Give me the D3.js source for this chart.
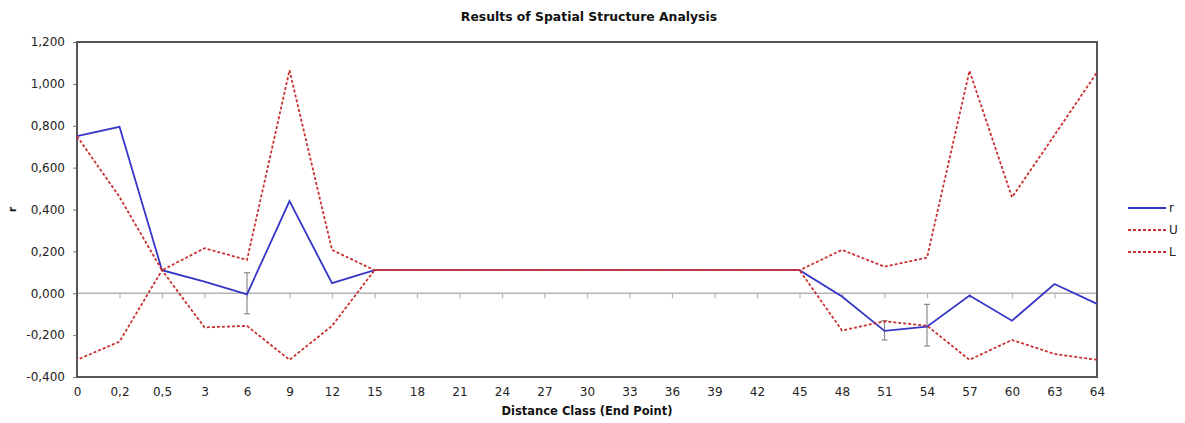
<!DOCTYPE html>
<html>
<head>
<meta charset="utf-8">
<script src="https://cdn.jsdelivr.net/npm/d3@7/dist/d3.min.js"></script>
<style>
  html, body { margin: 0; padding: 0; background: #fff; }
  svg { display: block; font-family: "DejaVu Sans", sans-serif; }
</style>
</head>
<body>
<svg id="chart" width="1185" height="423"></svg>
<script>
// Distance classes (end points) along the x axis
const classes = ["0", "0,2", "0,5", "3", "6", "9", "12", "15", "18", "21", "24", "27", "30",
                 "33", "36", "39", "42", "45", "48", "51", "54", "57", "60", "63", "64"];

// Correlation r per distance class
const rValues = [0.750, 0.795, 0.110, 0.055, -0.005, 0.440, 0.048, 0.110, 0.110, 0.110, 0.110, 0.110, 0.110,
                 0.110, 0.110, 0.110, 0.110, 0.110, -0.016, -0.180, -0.160, -0.011, -0.131, 0.044, -0.051];

// Upper confidence bound U
const uValues = [0.750, 0.460, 0.110, 0.215, 0.159, 1.065, 0.207, 0.110, 0.110, 0.110, 0.110, 0.110, 0.110,
                 0.110, 0.110, 0.110, 0.110, 0.110, 0.207, 0.127, 0.170, 1.062, 0.458, 0.755, 1.055];

// Lower confidence bound L
const lValues = [-0.318, -0.231, 0.110, -0.163, -0.156, -0.318, -0.156, 0.110, 0.110, 0.110, 0.110, 0.110, 0.110,
                 0.110, 0.110, 0.110, 0.110, 0.110, -0.178, -0.134, -0.155, -0.318, -0.223, -0.290, -0.318];

// Error bars drawn at a few classes
const errClasses = ["6", "51", "54"];
const errHigh = [0.098, -0.131, -0.053];
const errLow = [-0.098, -0.223, -0.252];

// Y axis tick values
const yTicks = [-0.4, -0.2, 0, 0.2, 0.4, 0.6, 0.8, 1.0, 1.2];

const svg = d3.select("#chart");
const plotL = 77, plotR = 1097, plotT = 42, plotB = 377;

const x = d3.scalePoint().domain(classes).range([plotL, plotR]).padding(0);
const y = d3.scaleLinear().domain([-0.4, 1.2]).range([plotB, plotT]);

const fmt = d3.formatLocale({ decimal: ",", thousands: ".", grouping: [3], currency: ["", ""], minus: "-" }).format(".3f");

// Title
svg.append("text")
  .attr("x", (plotL + plotR) / 2 + 2).attr("y", 21)
  .attr("text-anchor", "middle")
  .attr("font-size", 12.4).attr("font-weight", "bold").attr("fill", "#111")
  .text("Results of Spatial Structure Analysis");

// Y axis with tick labels
const yAxis = d3.axisLeft(y).tickValues(yTicks).tickFormat(fmt).tickSize(4).tickPadding(8);
const gy = svg.append("g").attr("transform", `translate(${plotL},0)`).call(yAxis);
gy.select(".domain").remove();
gy.selectAll(".tick line").attr("stroke", "#777");
gy.selectAll(".tick text").attr("font-size", 12).attr("fill", "#222").attr("font-family", "DejaVu Sans, sans-serif");

// Zero baseline with category tick marks
const gx = svg.append("g").attr("transform", `translate(0,${y(0)})`)
  .call(d3.axisBottom(x).tickSize(5).tickFormat(""));
gx.select(".domain").attr("stroke", "#b4b4b4").attr("stroke-width", 1.5)
  .attr("d", `M${plotL},0H${plotR}`);
gx.selectAll(".tick line").attr("stroke", "#b4b4b4").attr("stroke-width", 1.2);

// Category labels along the bottom
const gxl = svg.append("g").attr("transform", `translate(0,${plotB})`)
  .call(d3.axisBottom(x).tickSize(0).tickPadding(10));
gxl.select(".domain").remove();
gxl.selectAll(".tick text").attr("font-size", 12).attr("fill", "#222").attr("font-family", "DejaVu Sans, sans-serif");

// Plot frame
svg.append("rect")
  .attr("x", plotL).attr("y", plotT)
  .attr("width", plotR - plotL).attr("height", plotB - plotT)
  .attr("fill", "none").attr("stroke", "#555").attr("stroke-width", 2);

// Axis titles
svg.append("text")
  .attr("transform", `translate(16,${(plotT + plotB) / 2}) rotate(-90)`)
  .attr("text-anchor", "middle")
  .attr("font-size", 11).attr("font-weight", "bold").attr("fill", "#111")
  .text("r");
svg.append("text")
  .attr("x", (plotL + plotR) / 2).attr("y", 415)
  .attr("text-anchor", "middle")
  .attr("font-size", 11.5).attr("font-weight", "bold").attr("fill", "#111")
  .text("Distance Class (End Point)");

const line = d3.line().x((d, i) => x(classes[i])).y(d => y(d));

const series = [
  { name: "r", values: rValues, color: "#3535c8", dash: null, width: 1.8 },
  { name: "U", values: uValues, color: "#c83232", dash: "3,2", width: 1.8 },
  { name: "L", values: lValues, color: "#c83232", dash: "3,2", width: 1.8 }
];

// Error bars
const gErr = svg.append("g").attr("stroke", "#8a8a8a").attr("stroke-width", 1.2);
errClasses.forEach((c, i) => {
  const cx = x(c);
  gErr.append("line").attr("x1", cx).attr("x2", cx).attr("y1", y(errHigh[i])).attr("y2", y(errLow[i]));
  gErr.append("line").attr("x1", cx - 3).attr("x2", cx + 3).attr("y1", y(errHigh[i])).attr("y2", y(errHigh[i]));
  gErr.append("line").attr("x1", cx - 3).attr("x2", cx + 3).attr("y1", y(errLow[i])).attr("y2", y(errLow[i]));
});

// Series lines
const paths = series.map(s => svg.append("path")
  .datum(s.values)
  .attr("d", line)
  .attr("fill", "none")
  .attr("stroke", s.color)
  .attr("stroke-width", s.width)
  .attr("stroke-dasharray", s.dash)
  .attr("stroke-linejoin", "miter"));

// Where U and L coincide, shift L's dash phase so its dashes fill U's gaps
const period = 5, dashLen = 3, flatStart = classes.indexOf("15");
function lengthTo(values, n) {
  const tmp = svg.append("path").attr("d", line(values.slice(0, n + 1)));
  const len = tmp.node().getTotalLength();
  tmp.remove();
  return len;
}
const phaseU = lengthTo(uValues, flatStart) % period;
const lenL = lengthTo(lValues, flatStart);
const offL = (((phaseU + dashLen - lenL) % period) + period) % period;
paths[2].attr("stroke-dashoffset", -offL);

// Legend
const legend = svg.append("g");
series.forEach((s, i) => {
  const ly = 208 + i * 22;
  legend.append("line")
    .attr("x1", 1128).attr("x2", 1166).attr("y1", ly).attr("y2", ly)
    .attr("stroke", s.color).attr("stroke-width", s.width)
    .attr("stroke-dasharray", s.dash);
  legend.append("text")
    .attr("x", 1169).attr("y", ly + 4)
    .attr("font-size", 12).attr("fill", "#222")
    .text(s.name);
});
</script>
</body>
</html>
